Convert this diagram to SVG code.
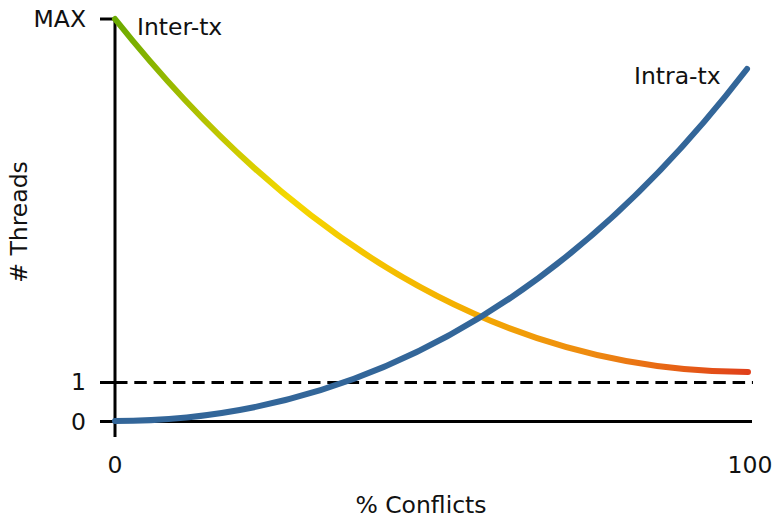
<svg xmlns="http://www.w3.org/2000/svg" width="776" height="518" viewBox="0 0 776 518">
<style>
text{font-family:"DejaVu Sans","Liberation Sans",sans-serif;font-size:23.5px;fill:#111}
.ax{stroke:#000;stroke-width:3;fill:none}
.curve{fill:none;stroke-width:6;stroke-linecap:round}
</style>
<defs>
<linearGradient id="interGrad" gradientUnits="userSpaceOnUse" x1="115" y1="19" x2="748" y2="372">
<stop offset="0" stop-color="#6aaa00"/>
<stop offset="0.33" stop-color="#f5d800"/>
<stop offset="0.6" stop-color="#f4b000"/>
<stop offset="0.8" stop-color="#ee8a10"/>
<stop offset="1" stop-color="#e0401a"/>
</linearGradient>
</defs>
<rect width="776" height="518" fill="#fff"/>
<g id="axes">
<line class="ax" x1="115" y1="19" x2="115" y2="437"/>
<line class="ax" x1="100" y1="19" x2="115" y2="19"/>
<line class="ax" x1="100" y1="382.5" x2="115" y2="382.5"/>
<line class="ax" x1="100" y1="421.5" x2="752" y2="421.5"/>
<line class="ax" x1="115" y1="382.5" x2="753" y2="382.5" stroke-dasharray="12.5 6.8"/>
</g>
<g id="labels">
<text x="86" y="27" text-anchor="end">MAX</text>
<text x="86" y="390" text-anchor="end">1</text>
<text x="86" y="430" text-anchor="end">0</text>
<text x="115" y="473" text-anchor="middle">0</text>
<text x="750" y="473" text-anchor="middle">100</text>
<text x="421" y="513" text-anchor="middle">% Conflicts</text>
<text transform="translate(27,222) rotate(-90)" text-anchor="middle"># Threads</text>
</g>
<g id="connectors">
<path id="inter-tx-curve" class="curve" stroke="url(#interGrad)" d="M115,19 Q397,372 748,372"/>
<path id="intra-tx-curve" class="curve" stroke="#336699" d="M115,421 Q476,421 747,69"/>
</g>
<g id="inter-tx">
<text x="137" y="35">Inter-tx</text>
</g>
<g id="intra-tx">
<text x="634" y="84">Intra-tx</text>
</g>
</svg>
